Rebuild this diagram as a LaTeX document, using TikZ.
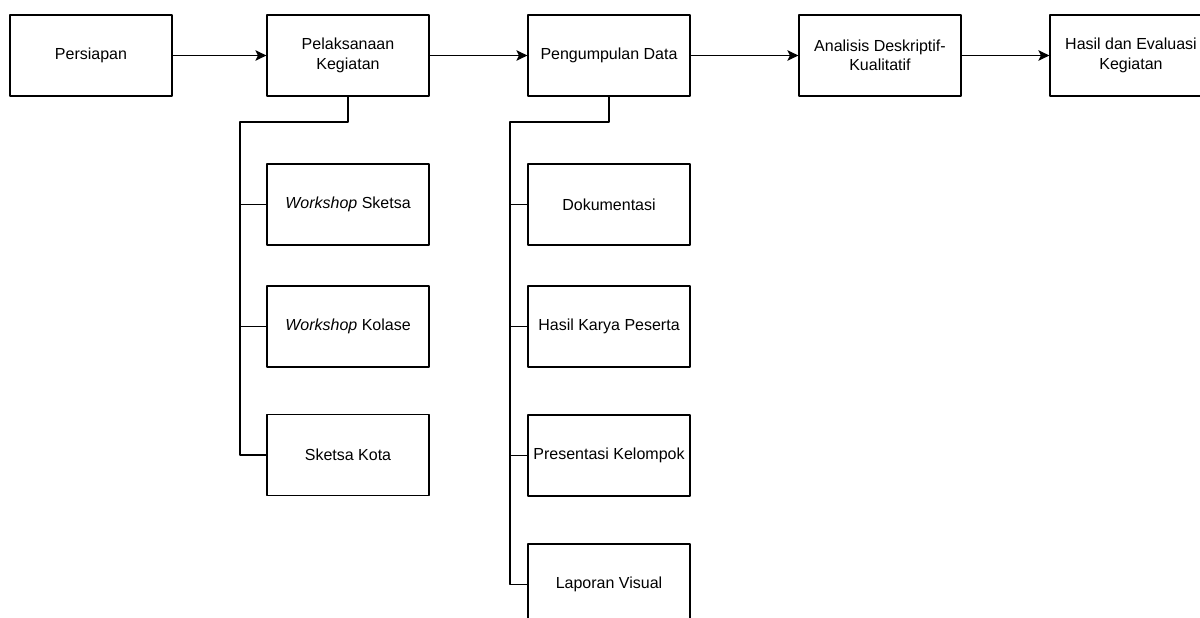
\documentclass[tikz,border=0pt]{standalone}
\usepackage{fontspec}
\setmainfont{Liberation Sans}
\usetikzlibrary{arrows.meta}

\tikzset{
  box/.style={draw, line width=1.2pt, minimum width=162pt, minimum height=81pt, inner sep=0pt, align=center, font=\fontsize{16}{19.5}\selectfont},
  flow/.style={-{Stealth[length=11pt, width=10.5pt, inset=2.5pt]}, line width=1.2pt},
  branch/.style={line width=1.2pt}
}

\begin{document}
\begin{tikzpicture}[x=1pt, y=-1pt, line cap=round, line join=round]
        \useasboundingbox (0, 0) rectangle (1200, 618);
        \clip (0, 0) rectangle (1200, 618);
        % draw main stages
        \node[box] (persiapan) at (91, 55.5) {Persiapan};
        \node[box] (pelaksanaan) at (348, 55.5) {Pelaksanaan\\Kegiatan};
        \node[box] (pengumpulan) at (609, 55.5) {Pengumpulan Data};
        \node[box] (analisis) at (880, 55.5) {Analisis Deskriptif-\\Kualitatif};
        \node[box] (evaluasi) at (1131, 55.5) {Hasil dan Evaluasi\\Kegiatan};
        % draw flow between stages
        \draw[flow] (persiapan) -- (pelaksanaan);
        \draw[flow] (pelaksanaan) -- (pengumpulan);
        \draw[flow] (pengumpulan) -- (analisis);
        \draw[flow] (analisis) -- (evaluasi);
        % draw activities
        \node[box] (sketsa) at (348, 204.5) {\textit{Workshop} Sketsa};
        \node[box] (kolase) at (348, 326.5) {\textit{Workshop} Kolase};
        \node[box] (kota) at (348, 455) {Sketsa Kota};
        % draw data sources
        \node[box] (dokumentasi) at (609, 204.5) {Dokumentasi};
        \node[box] (karya) at (609, 326.5) {Hasil Karya Peserta};
        \node[box] (presentasi) at (609, 455.5) {Presentasi Kelompok};
        \node[box] (laporan) at (609, 584.5) {Laporan Visual};
        % draw activity tree
        \coordinate (spineA) at (240, 122);
        \draw[branch] (pelaksanaan.south) |- (spineA) -- (spineA |- kota.west) -- (kota.west);
        \draw[branch] (spineA |- sketsa.west) -- (sketsa.west);
        \draw[branch] (spineA |- kolase.west) -- (kolase.west);
        % draw data tree
        \coordinate (spineB) at (510, 122);
        \draw[branch] (pengumpulan.south) |- (spineB) -- (spineB |- laporan.west) -- (laporan.west);
        \draw[branch] (spineB |- dokumentasi.west) -- (dokumentasi.west);
        \draw[branch] (spineB |- karya.west) -- (karya.west);
        \draw[branch] (spineB |- presentasi.west) -- (presentasi.west);
\end{tikzpicture}
\end{document}
